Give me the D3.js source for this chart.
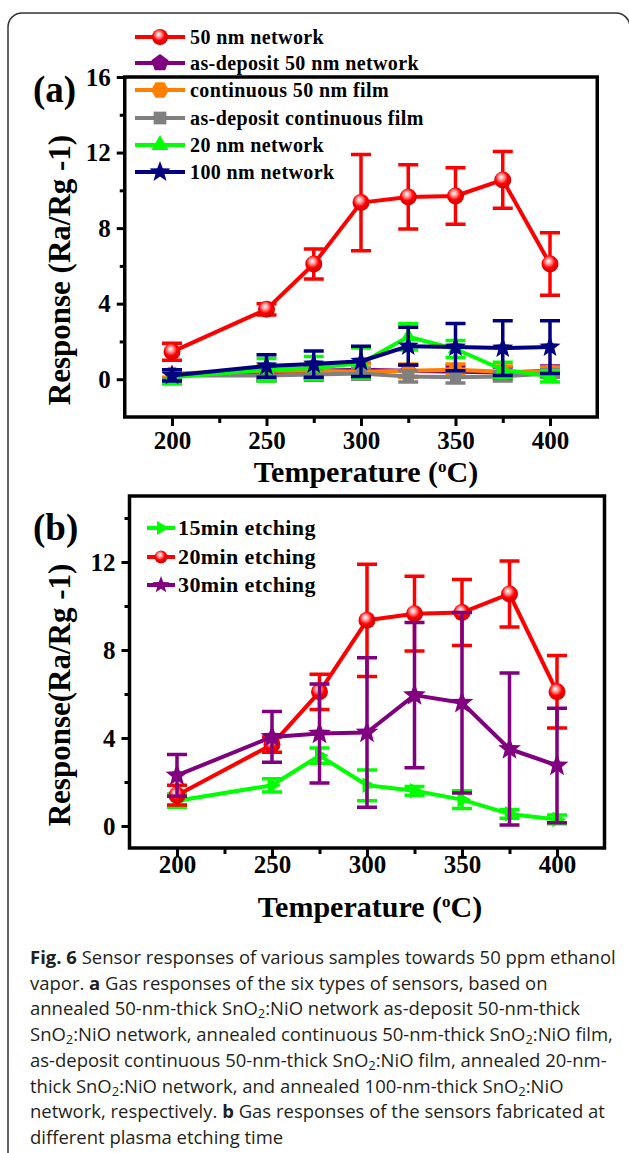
<!DOCTYPE html>
<html>
<head>
<meta charset="utf-8">
<script src="https://cdn.jsdelivr.net/npm/d3@7"></script>
<style>
  body { margin: 0; background: #fff; }
  svg { display: block; }
  .serif { font-family: "Liberation Serif", "Times New Roman", serif; font-weight: bold; fill: #000; }
  .caption { font-family: "Open Sans", sans-serif; fill: #231f20; }
</style>
</head>
<body>
<div id="chart"></div>
<script>
// ---- data ----
const temps = [200, 250, 275, 300, 325, 350, 375, 400];
const xTicks = [200, 250, 300, 350, 400];
const xMinorTicks = [225, 275, 325, 375];

// panel (a)
const net50 = [1.45, 3.7, 6.1, 9.35, 9.65, 9.7, 10.55, 6.1];
const net50Err = [0.45, 0.3, 0.8, 2.55, 1.7, 1.5, 1.5, 1.65];
const asDep50 = [0.25, 0.3, 0.45, 0.5, 0.45, 0.4, 0.35, 0.45];
const asDep50Err = [0.25, 0.35, 0.3, 0.35, 0.3, 0.3, 0.3, 0.25];
const cont50 = [0.3, 0.45, 0.45, 0.4, 0.45, 0.5, 0.4, 0.4];
const cont50Err = [0.2, 0.3, 0.4, 0.4, 0.35, 0.3, 0.3, 0.25];
const asDepCont = [0.2, 0.2, 0.25, 0.3, 0.15, 0.1, 0.15, 0.3];
const asDepContErr = [0.2, 0.3, 0.3, 0.3, 0.3, 0.3, 0.25, 0.2];
const net20 = [0.1, 0.5, 0.6, 0.85, 2.25, 1.6, 0.5, 0.15];
const net20Err = [0.35, 0.6, 0.6, 0.8, 0.7, 0.45, 0.4, 0.3];
const net100 = [0.2, 0.7, 0.8, 0.95, 1.75, 1.7, 1.65, 1.7];
const net100Err = [0.3, 0.6, 0.7, 0.8, 1.0, 1.25, 1.45, 1.4];
const yTicksA = [0, 4, 8, 12, 16];
const yMinorA = [2, 6, 10, 14];

// panel (b)
const etch15 = [1.15, 1.85, 3.2, 1.85, 1.6, 1.2, 0.55, 0.3];
const etch15Err = [0.3, 0.3, 0.35, 0.7, 0.2, 0.4, 0.2, 0.2];
const etch20 = [1.4, 3.7, 6.1, 9.35, 9.65, 9.7, 10.55, 6.1];
const etch20Err = [0.45, 0.35, 0.8, 2.55, 1.7, 1.5, 1.5, 1.65];
const etch30 = [2.3, 4.05, 4.2, 4.25, 5.95, 5.6, 3.5, 2.75];
const etch30Err = [0.95, 1.15, 2.25, 3.4, 3.3, 4.1, 3.45, 2.6];
const yTicksB = [0, 4, 8, 12];
const yMinorB = [2, 6, 10, 14];

// caption, one entry per printed line: [text, style]
const captionLines = [
  [["Fig. 6", "b"], [" Sensor responses of various samples towards 50 ppm ethanol"]],
  [["vapor. "], ["a", "b"], [" Gas responses of the six types of sensors, based on"]],
  [["annealed 50-nm-thick SnO"], ["2", "sub"], [":NiO network as-deposit 50-nm-thick"]],
  [["SnO"], ["2", "sub"], [":NiO network, annealed continuous 50-nm-thick SnO"], ["2", "sub"], [":NiO film,"]],
  [["as-deposit continuous 50-nm-thick SnO"], ["2", "sub"], [":NiO film, annealed 20-nm-"]],
  [["thick SnO"], ["2", "sub"], [":NiO network, and annealed 100-nm-thick SnO"], ["2", "sub"], [":NiO"]],
  [["network, respectively. "], ["b", "b"], [" Gas responses of the sensors fabricated at"]],
  [["different plasma etching time"]],
];

// ---- page ----
const W = 629, H = 1153;
const svg = d3.select("#chart").append("svg").attr("width", W).attr("height", H);

// sphere look for the red circle markers
const grad = svg.append("defs").append("radialGradient")
  .attr("id", "sphere").attr("cx", "0.45").attr("cy", "0.4").attr("r", "0.6")
  .attr("fx", "0.4").attr("fy", "0.32");
grad.append("stop").attr("offset", "0").attr("stop-color", "#ffffff");
grad.append("stop").attr("offset", "0.28").attr("stop-color", "#ff9a9a");
grad.append("stop").attr("offset", "0.6").attr("stop-color", "#ff0000");
grad.append("stop").attr("offset", "1").attr("stop-color", "#d00000");

// outer rounded border (right side runs off the page)
svg.append("rect")
  .attr("x", 8).attr("y", 13).attr("width", 622).attr("height", 1200).attr("rx", 14)
  .attr("fill", "none").attr("stroke", "#333").attr("stroke-width", 1.5);

// marker shapes
function polygon(n, r, start) {
  const pts = d3.range(n).map((i) => {
    const a = start + (i * 2 * Math.PI) / n;
    return [r * Math.cos(a), r * Math.sin(a)];
  });
  return "M" + pts.map((p) => p.join(",")).join("L") + "Z";
}
function star(r, ri) {
  const pts = d3.range(10).map((i) => {
    const a = -Math.PI / 2 + (i * Math.PI) / 5;
    const rr = i % 2 ? ri : r;
    return [rr * Math.cos(a), rr * Math.sin(a)];
  });
  return "M" + pts.map((p) => p.join(",")).join("L") + "Z";
}
const shapes = {
  pentagon: (s) => polygon(5, s, -Math.PI / 2),
  hexagon: (s) => polygon(6, s, 0),
  square: (s) => polygon(4, s, Math.PI / 4),
  triangle: (s) => polygon(3, s, -Math.PI / 2),
  right: (s) => polygon(3, s, 0),
  star: (s) => star(s, s * 0.42),
};

function marker(g, kind, color, size, cx, cy) {
  if (kind === "sphere") {
    g.append("circle").attr("cx", cx).attr("cy", cy).attr("r", size)
      .attr("fill", "url(#sphere)");
  } else {
    g.append("path").attr("d", shapes[kind](size))
      .attr("transform", `translate(${cx},${cy})`)
      .attr("fill", color);
  }
}

function drawPanel(p) {
  const x = d3.scaleLinear().domain([175, 425]).range(p.xRange);
  const y = d3.scaleLinear().domain(p.yDomain).range(p.yRange);
  const g = svg.append("g");
  const x0 = p.xRange[0], x1 = p.xRange[1], yTop = p.yRange[1], yBot = p.yRange[0];

  // ticks (outward)
  const ax = g.append("g").attr("transform", `translate(0,${yBot})`)
    .call(d3.axisBottom(x).tickValues(xTicks).tickSize(9).tickSizeOuter(0));
  g.append("g").attr("transform", `translate(0,${yBot})`)
    .call(d3.axisBottom(x).tickValues(xMinorTicks).tickSize(6).tickFormat(""));
  g.append("g").attr("transform", `translate(${x0},0)`)
    .call(d3.axisLeft(y).tickValues(p.yTicks).tickSize(8).tickPadding(6).tickSizeOuter(0));
  g.append("g").attr("transform", `translate(${x0},0)`)
    .call(d3.axisLeft(y).tickValues(p.yMinor).tickSize(5).tickFormat(""));
  g.selectAll(".domain").remove();
  g.selectAll(".tick line").attr("stroke", "#000").attr("stroke-width", 3);
  g.selectAll(".tick text").attr("class", "serif").style("font-size", "25px");
  ax.selectAll("text").attr("y", p.xLabelOffset).attr("dy", 0);

  // frame
  g.append("rect")
    .attr("x", x0).attr("y", yTop).attr("width", x1 - x0).attr("height", yBot - yTop)
    .attr("fill", "none").attr("stroke", "#000").attr("stroke-width", 3.5);

  // series
  const line = d3.line().x((d, i) => x(temps[i])).y((d) => y(d));
  p.series.forEach((s) => {
    const sg = g.append("g");
    s.values.forEach((v, i) => {
      const cx = x(temps[i]);
      const e = s.err[i];
      sg.append("path")
        .attr("d", `M${cx},${y(v - e)}V${y(v + e)}M${cx - 10},${y(v + e)}h20M${cx - 10},${y(v - e)}h20`)
        .attr("stroke", s.color).attr("stroke-width", 3.5).attr("fill", "none");
    });
    sg.append("path").attr("d", line(s.values))
      .attr("fill", "none").attr("stroke", s.color).attr("stroke-width", 4)
      .attr("stroke-linejoin", "round");
    s.values.forEach((v, i) => marker(sg, s.shape, s.color, s.size, x(temps[i]), y(v)));
  });

  // legend
  p.series.forEach((s, i) => {
    const ly = p.legend.rows[i];
    const lg = g.append("g");
    lg.append("line").attr("x1", p.legend.x0).attr("x2", p.legend.x1)
      .attr("y1", ly).attr("y2", ly).attr("stroke", s.color).attr("stroke-width", 4);
    marker(lg, s.shape, s.color, s.legendSize, (p.legend.x0 + p.legend.x1) / 2, ly);
    lg.append("text").attr("class", "serif").attr("x", p.legend.tx).attr("y", ly)
      .attr("dy", "0.34em").style("font-size", p.legend.font + "px")
      .style("letter-spacing", "0.4px").text(s.name);
  });

  // panel tag
  g.append("text").attr("class", "serif").attr("x", 33).attr("y", p.tagY)
    .style("font-size", "37px").text(p.tag);

  // axis titles
  g.append("text").attr("class", "serif")
    .attr("transform", `translate(${p.yTitleX},${p.yTitleY}) rotate(-90)`)
    .attr("text-anchor", "middle").style("font-size", "31px").text(p.yTitle);
  const xt = g.append("text").attr("class", "serif")
    .attr("x", p.xTitleX).attr("y", p.xTitleY).attr("text-anchor", "middle")
    .style("font-size", "30px");
  xt.append("tspan").text("Temperature (");
  xt.append("tspan").attr("baseline-shift", "60%").style("font-size", "17px").text("o");
  xt.append("tspan").text("C)");
}

drawPanel({
  tag: "(a)", tagY: 102,
  xRange: [124.75, 597.25], yDomain: [-2, 16], yRange: [417, 77],
  yTicks: yTicksA, yMinor: yMinorA, xLabelOffset: 32,
  yTitle: "Response (Ra/Rg -1)", yTitleX: 70, yTitleY: 270,
  xTitleX: 366, xTitleY: 482,
  legend: { x0: 135, x1: 185, tx: 190, font: 20, rows: [37, 63, 90, 118, 145, 172] },
  series: [
    { name: "50 nm network", values: net50, err: net50Err, color: "#ff0000", shape: "sphere", size: 8.5, legendSize: 8 },
    { name: "as-deposit 50 nm network", values: asDep50, err: asDep50Err, color: "#800080", shape: "pentagon", size: 8, legendSize: 9 },
    { name: "continuous 50 nm film", values: cont50, err: cont50Err, color: "#ff8000", shape: "hexagon", size: 8, legendSize: 9 },
    { name: "as-deposit continuous film", values: asDepCont, err: asDepContErr, color: "#808080", shape: "square", size: 8, legendSize: 9 },
    { name: "20 nm network", values: net20, err: net20Err, color: "#00ff00", shape: "triangle", size: 9, legendSize: 10 },
    { name: "100 nm network", values: net100, err: net100Err, color: "#000080", shape: "star", size: 11, legendSize: 11 },
  ],
});

drawPanel({
  tag: "(b)", tagY: 540,
  xRange: [129.5, 604.5], yDomain: [-1, 15], yRange: [848, 496],
  yTicks: yTicksB, yMinor: yMinorB, xLabelOffset: 25,
  yTitle: "Response(Ra/Rg -1)", yTitleX: 70, yTitleY: 695,
  xTitleX: 370, xTitleY: 917,
  legend: { x0: 147, x1: 175, tx: 178, font: 22, rows: [528, 557, 585] },
  series: [
    { name: "15min etching", values: etch15, err: etch15Err, color: "#00ff00", shape: "right", size: 9, legendSize: 8 },
    { name: "20min etching", values: etch20, err: etch20Err, color: "#ff0000", shape: "sphere", size: 8.5, legendSize: 6.5 },
    { name: "30min etching", values: etch30, err: etch30Err, color: "#800080", shape: "star", size: 12, legendSize: 9 },
  ],
});

// caption
const cap = svg.append("g");
captionLines.forEach((segs, i) => {
  const t = cap.append("text").attr("class", "caption")
    .attr("x", 30).attr("y", 964 + i * 25.7).style("font-size", "19px");
  segs.forEach(([txt, st]) => {
    const ts = t.append("tspan").text(txt);
    if (st === "b") ts.style("font-weight", "700");
    if (st === "sub") ts.attr("baseline-shift", "-22%").style("font-size", "70%");
  });
});
// fit the first line to its printed width
const first = cap.select("text").node().getComputedTextLength();
cap.selectAll("text").style("font-size", (19 * 586) / first + "px");
</script>
</body>
</html>
